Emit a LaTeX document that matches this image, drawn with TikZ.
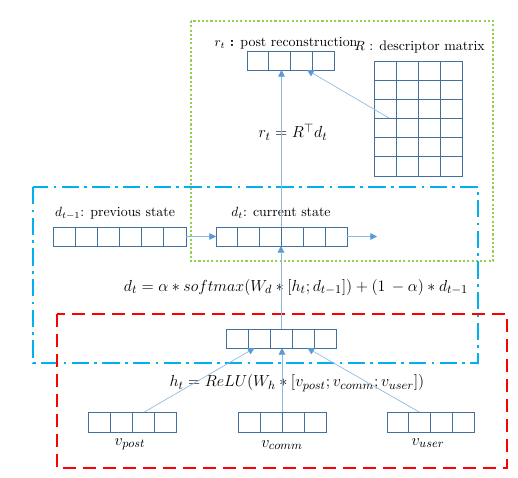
\documentclass[tikz,border=0pt]{standalone}
\usetikzlibrary{arrows.meta,calc}
\definecolor{vecblue}{RGB}{65,113,156}
\definecolor{arrblue}{RGB}{91,155,213}
\definecolor{lineblue}{RGB}{140,185,225}
\definecolor{framegreen}{RGB}{146,208,80}
\definecolor{framecyan}{RGB}{0,176,240}
\definecolor{framered}{RGB}{255,0,0}
\tikzset{
  vecbox/.style={draw=vecblue, line width=0.65pt, minimum height=14.25pt, inner sep=0pt, outer sep=0pt},
  cellline/.style={draw=vecblue, line width=0.65pt},
  conn/.style={draw=lineblue, line width=0.5pt, -{Triangle[width=5pt,length=5pt,fill=arrblue,color=arrblue]}},
  lbl/.style={inner sep=1pt, font=\fontsize{10.4}{12}\selectfont},
  frml/.style={inner sep=1pt, font=\fontsize{12.5}{14}\selectfont},
}
\newcommand{\mycells}[2]{%
  \foreach \i in {1,...,#2} {
    \pgfmathsetmacro{\fr}{\i/(#2+1)}
    \draw[cellline] ($(#1.south west)!\fr!(#1.south east)$) -- ($(#1.north west)!\fr!(#1.north east)$);
  }}
\begin{document}
\begin{tikzpicture}[x=0.75pt,y=-0.75pt]
\useasboundingbox (0,0) rectangle (518,478);
% frames
\draw[framegreen, line width=1.6pt, dash pattern=on 1.6pt off 1.6pt] (191,21) rectangle (493,261);
\draw[framecyan, line width=1.6pt, dash pattern=on 13pt off 4pt on 2pt off 4pt] (33,187) rectangle (478,363);
\draw[framered, line width=1.5pt, dash pattern=on 10pt off 5pt] (57,314) rectangle (507,468);
% vectors
\node[vecbox, minimum width=65.25pt] (rt) at (290.5,60.5) {};
\mycells{rt}{3}
\node[vecbox, minimum width=66pt, minimum height=86.25pt] (R) at (418,118.5) {};
\mycells{R}{3}
\foreach \j in {1,...,5} {
  \pgfmathsetmacro{\fr}{\j/6}
  \draw[cellline] ($(R.north west)!\fr!(R.south west)$) -- ($(R.north east)!\fr!(R.south east)$);
}
\node[vecbox, minimum width=99.75pt] (dprev) at (119.5,236.5) {};
\mycells{dprev}{5}
\node[vecbox, minimum width=98.25pt] (dt) at (281.5,236.5) {};
\mycells{dt}{5}
\node[vecbox, minimum width=82.5pt] (h) at (281,338.5) {};
\mycells{h}{4}
\node[vecbox, minimum width=66pt, minimum height=15pt] (vpost) at (132,422) {};
\mycells{vpost}{3}
\node[vecbox, minimum width=66pt, minimum height=15pt] (vcomm) at (282,422) {};
\mycells{vcomm}{3}
\node[vecbox, minimum width=65.25pt, minimum height=15pt] (vuser) at (430.5,422) {};
\mycells{vuser}{3}
% labels
\node[lbl] (lrt) at (286,43) {$r_t$ \textbf{:} post reconstruction};
\node[lbl, anchor=west] (lR) at (353,47) {$R$ : descriptor matrix};
\node[lbl] (ldprev) at (115,213) {$d_{t-1}$: previous state};
\node[lbl] (ldt) at (281,213) {$d_t$: current state};
\node[frml] (frt) at (293,132) {$r_t = R^{\top} d_t$};
\node[frml] (fdt) at (296,287) {$d_t = \alpha \ast softmax(W_d \ast [h_t; d_{t-1}]) + (1\,-\alpha) \ast d_{t-1}$};
\node[frml] (fh) at (297,383) {$h_t = ReLU(W_h \ast \bigl[v_{post}; v_{comm}; v_{user}\bigr])$};
\node[frml] (lvpost) at (130,444) {$v_{post}$};
\node[frml] (lvcomm) at (282,445) {$v_{comm}$};
\node[frml] (lvuser) at (428,443) {$v_{user}$};
% connectors
\coordinate (Rpt) at (389,118);
\coordinate (dtout) at (377,236.5);
\draw[conn] (dt.north) -- (dt.north |- rt.south);
\draw[conn] (Rpt) -- ($(rt.south west)!0.69!(rt.south east)$);
\draw[conn] (dprev.east) -- (dt.west);
\draw[conn] (dt.east) -- (dtout);
\draw[conn] (h.north) -- (h.north |- dt.south);
\draw[conn] ($(vpost.north west)!0.64!(vpost.north east)$) -- ($(h.south west)!0.26!(h.south east)$);
\draw[conn] (vcomm.north) -- (vcomm.north |- h.south);
\draw[conn] ($(vuser.north west)!0.37!(vuser.north east)$) -- ($(h.south west)!0.74!(h.south east)$);
\end{tikzpicture}
\end{document}
